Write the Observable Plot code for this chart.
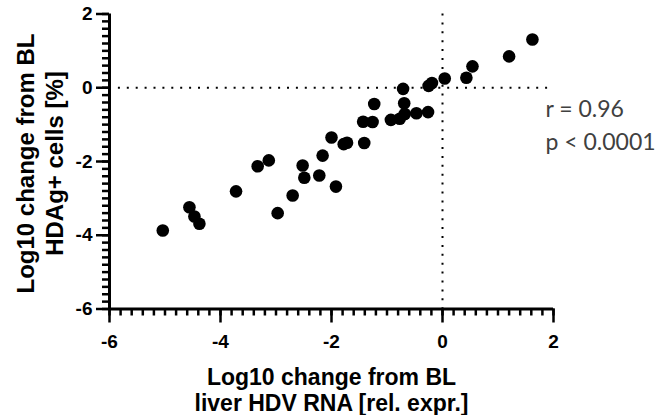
<!DOCTYPE html>
<html>
<head>
<meta charset="utf-8">
<script src="https://cdn.jsdelivr.net/npm/d3@7"></script>
<script src="https://cdn.jsdelivr.net/npm/@observablehq/plot@0.6"></script>
<style>
  html, body { margin: 0; padding: 0; background: white; }
</style>
</head>
<body>
<div id="chart"></div>
<script>
// Data
const xs = [-5.04,-4.56,-4.47,-4.38,-3.72,-3.33,-3.13,-2.97,-2.70,-2.52,-2.49,-2.22,-2.16,-2.00,-1.92,-1.78,-1.72,-1.43,-1.41,-1.26,-1.23,-0.93,-0.77,-0.68,-0.69,-0.71,-0.47,-0.26,-0.25,-0.19,0.04,0.43,0.54,1.20,1.62];
const ys = [-3.87,-3.24,-3.49,-3.69,-2.81,-2.13,-1.97,-3.40,-2.92,-2.11,-2.44,-2.38,-1.84,-1.35,-2.68,-1.53,-1.49,-0.92,-1.50,-0.93,-0.44,-0.87,-0.84,-0.71,-0.42,-0.03,-0.69,-0.66,0.05,0.13,0.25,0.27,0.58,0.85,1.31];
const xMajorTicks = [-6, -4, -2, 0, 2];
const yMajorTicks = [-6, -4, -2, 0, 2];
const xMinorTicks = d3.range(-30, 11).map(i => i / 5);
const yMinorTicks = d3.range(-30, 11).map(i => i / 5);
const xTitle = ["Log10 change from BL", "liver HDV RNA [rel. expr.]"];
const yTitle = ["Log10 change from BL", "HDAg+ cells [%]"];
const statsText = ["r = 0.96", "p < 0.0001"];

const points = xs.map((x, i) => ({lx: x, ly: ys[i]}));
const fmt = d => String(d);
const titleStyle = {fontWeight: "bold", fill: "black", textAnchor: "middle", lineAnchor: "middle"};
const statStyle = {fontSize: 23, fontFamily: "Lato, 'Open Sans', sans-serif", fill: "#404040", textAnchor: "start", lineAnchor: "middle", frameAnchor: "top-right", dx: -8};

const chart = Plot.plot({
  width: 659,
  height: 415,
  marginLeft: 109,
  marginRight: 106,
  marginTop: 13.5,
  marginBottom: 106.5,
  x: {domain: [-6, 2], label: null},
  y: {domain: [-6, 2], label: null},
  style: {fontFamily: "'Liberation Sans', Arial, sans-serif", background: "white", color: "black", overflow: "visible"},
  marks: [
    Plot.ruleY([0], {stroke: "black", strokeWidth: 2, strokeDasharray: "2 6.9"}),
    Plot.ruleX([0], {stroke: "black", strokeWidth: 2, strokeDasharray: "2 6.9"}),
    Plot.dot(points, {x: "lx", y: "ly", r: 6.3, fill: "black", stroke: null}),
    // minor ticks
    Plot.axisX(xMinorTicks, {anchor: "bottom", tickSize: 7, strokeWidth: 2.5, tickFormat: () => "", label: null}),
    Plot.axisY(yMinorTicks, {anchor: "left", tickSize: 7, strokeWidth: 2.5, tickFormat: () => "", label: null}),
    // major ticks
    Plot.axisX(xMajorTicks, {anchor: "bottom", tickSize: 14, tickPadding: 11, strokeWidth: 2.5, fontSize: 19, fontWeight: "bold", tickFormat: fmt, label: null}),
    Plot.axisY(yMajorTicks, {anchor: "left", tickSize: 13, tickPadding: 4, strokeWidth: 2.5, fontSize: 19, fontWeight: "bold", tickFormat: fmt, label: null}),
    // axis lines
    Plot.ruleY([-6], {stroke: "black", strokeWidth: 3}),
    Plot.ruleX([-6], {stroke: "black", strokeWidth: 3}),
    // axis titles (one multi-line text each)
    Plot.text([xTitle.join("\n")], {...titleStyle, fontSize: 23, frameAnchor: "bottom", dy: 80.5, lineHeight: 25.7 / 23}),
    Plot.text([yTitle.join("\n")], {...titleStyle, fontSize: 24, frameAnchor: "left", rotate: -90, dx: -70.5, dy: 2, lineHeight: 29 / 24}),
    // stats
    Plot.text([statsText[0]], {...statStyle, dy: 96}),
    Plot.text([statsText[1]], {...statStyle, dy: 129})
  ]
});
document.getElementById("chart").appendChild(chart);
</script>
</body>
</html>
